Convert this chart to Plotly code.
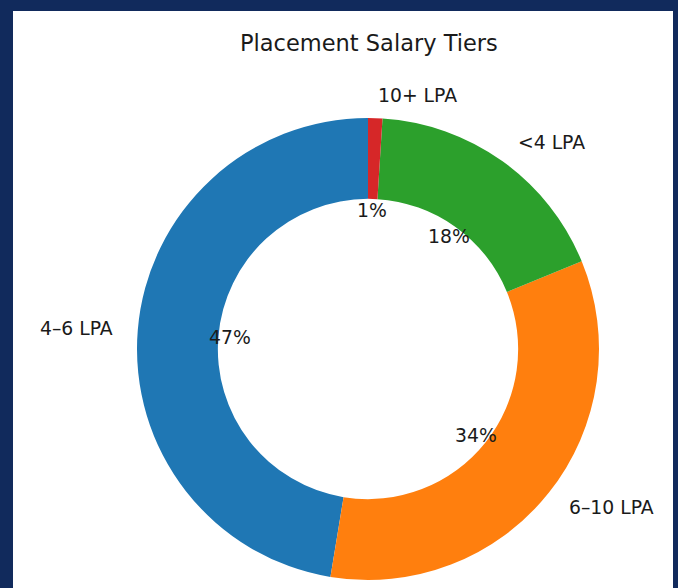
import math

import plotly.graph_objects as go

# slice data (matplotlib order, counter-clockwise from 12 o'clock)
labels = ["4–6 LPA", "6–10 LPA", "<4 LPA", "10+ LPA"]
values = [47.4, 33.8, 17.8, 1.0]
colors = ["#1f77b4", "#ff7f0e", "#2ca02c", "#d62728"]

W, H = 678, 588
CX, CY, R = 368, 349, 231  # donut centre / outer radius in px

total = sum(values)

fig = go.Figure()
fig.add_trace(
    go.Pie(
        labels=labels,
        values=values,
        marker=dict(colors=colors),
        hole=0.65,
        sort=False,
        direction="counterclockwise",
        # plotly ends the first ccw slice at the rotation angle, so shift it
        rotation=-360.0 * values[0] / total,
        textinfo="none",
        hoverinfo="label+percent",
        showlegend=False,
        domain=dict(
            x=[(CX - R) / W, (CX + R) / W],
            y=[1 - (CY + R) / H, 1 - (CY - R) / H],
        ),
    )
)


def px(x, y):
    return x / W, 1 - y / H


annotations = []
start = 90.0
for lab, v in zip(labels, values):
    span = 360.0 * v / total
    mid = math.radians(start + span / 2)
    start += span
    # outer label at 1.1 r
    lx, ly = CX + 1.1 * R * math.cos(mid), CY - 1.1 * R * math.sin(mid)
    ax, ay = px(lx, ly)
    annotations.append(dict(
        x=ax, y=ay, xref="paper", yref="paper", text=lab, showarrow=False,
        xanchor="left" if math.cos(mid) >= 0 else "right", yanchor="middle",
        font=dict(size=18.8, color="#1a1a1a"),
    ))
    # percentage at 0.6 r
    tx, ty = CX + 0.6 * R * math.cos(mid), CY - 0.6 * R * math.sin(mid)
    bx, by = px(tx, ty)
    annotations.append(dict(
        x=bx, y=by, xref="paper", yref="paper", text=f"{100 * v / total:.0f}%",
        showarrow=False, xanchor="center", yanchor="middle",
        font=dict(size=18.8, color="#1a1a1a"),
    ))

tx, ty = px(368.5, 43)
annotations.append(dict(
    x=tx, y=ty, xref="paper", yref="paper", text="Placement Salary Tiers",
    showarrow=False, xanchor="center", yanchor="middle",
    font=dict(size=22.5, color="#1a1a1a"),
))

fig.update_layout(
    width=W,
    height=H,
    margin=dict(l=0, r=0, t=0, b=0),
    paper_bgcolor="#112a5c",
    plot_bgcolor="#112a5c",
    font=dict(family="DejaVu Sans"),
    annotations=annotations,
    shapes=[
        dict(type="rect", xref="paper", yref="paper", layer="below",
             x0=13 / W, x1=673 / W, y0=0, y1=1 - 11 / H,
             fillcolor="white", line=dict(width=0)),
    ],
)

fig.write_html(
    "out.html",
    config={"displayModeBar": False},
    post_script="document.body.style.margin='0';",
)
